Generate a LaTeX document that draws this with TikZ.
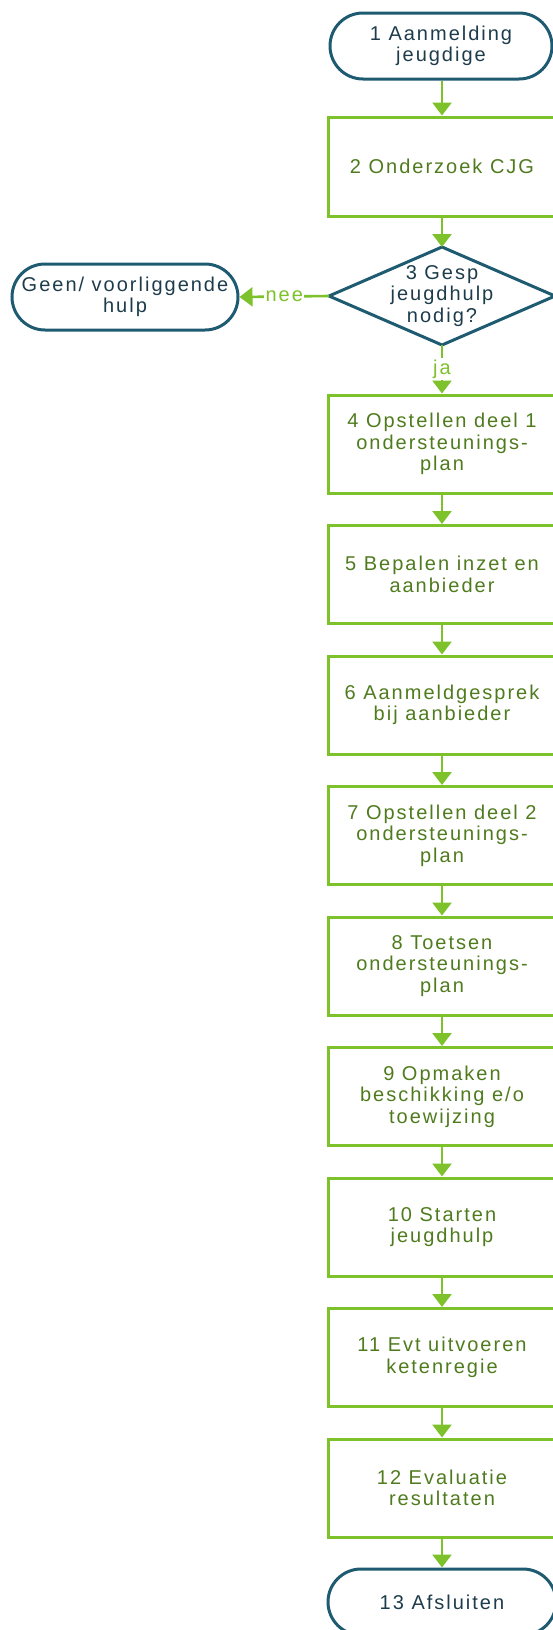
\documentclass[tikz,border=0pt]{standalone}
\usepackage{fontspec}
\setmainfont{Liberation Sans}[LetterSpace=10]
\usetikzlibrary{arrows.meta}
\definecolor{lgreen}{RGB}{125,193,43}
\definecolor{tgreen}{RGB}{79,123,30}
\definecolor{teal2}{RGB}{31,91,112}
\definecolor{dtext}{RGB}{29,60,75}
\newcommand{\flowfont}{\fontsize{20}{21.6}\selectfont}
\begin{document}
\begin{tikzpicture}[x=1pt,y=-1pt,
  stepbox/.style={draw=lgreen, line width=3pt, minimum width=228pt, minimum height=98pt,
    inner sep=0pt, align=center, text=tgreen, font=\flowfont},
  term/.style={draw=teal2, line width=3pt, rounded corners=33pt, minimum width=222pt,
    minimum height=66pt, inner sep=0pt, align=center, text=dtext, font=\flowfont},
  diam/.style={minimum width=226pt, minimum height=98pt, inner sep=0pt, outer sep=0pt,
    align=center, text=dtext, font=\flowfont},
  conn/.style={draw=lgreen, line width=2.6pt, -{Triangle[length=13pt,width=19pt]}},
  lbl/.style={text=lgreen, fill=white, inner sep=1.5pt, font=\flowfont}
]
\useasboundingbox (0,0) rectangle (552,1630);
\node[term] (t1) at (441,46) {1 Aanmelding\\jeugdige};
\node[stepbox, minimum height=99pt] (b2) at (442,166.5) {2 Onderzoek CJG};
\node[diam] (d3) at (442,296) {3 Gesp\\jeugdhulp\\nodig?};
\draw[teal2, line width=3pt, line join=miter] (d3.north) -- (d3.east) -- (d3.south) -- (d3.west) -- cycle;
\node[term, minimum width=226pt] (g) at (125,297) {Geen/ voorliggende\\hulp};
\node[stepbox] (b4) at (442,444) {4 Opstellen deel 1\\ondersteunings-\\plan};
\node[stepbox] (b5) at (442,574.5) {5 Bepalen inzet en\\aanbieder};
\node[stepbox] (b6) at (442,705) {6 Aanmeldgesprek\\bij aanbieder};
\node[stepbox] (b7) at (442,835.5) {7 Opstellen deel 2\\ondersteunings-\\plan};
\node[stepbox] (b8) at (442,966) {8 Toetsen\\ondersteunings-\\plan};
\node[stepbox] (b9) at (442,1096.5) {9 Opmaken\\beschikking e/o\\toewijzing};
\node[stepbox] (b10) at (442,1227) {10 Starten\\jeugdhulp};
\node[stepbox] (b11) at (442,1357.5) {11 Evt uitvoeren\\ketenregie};
\node[stepbox] (b12) at (442,1488) {12 Evaluatie\\resultaten};
\node[term, minimum width=228pt] (t13) at (442,1602) {13 Afsluiten};
\draw[conn] (t1.south -| b2.north) -- (b2.north);
\draw[conn] (b2.south) -- (d3.north);
\draw[conn] (d3.west) -- node[lbl] {nee} (g.east);
\draw[conn] (d3.south) -- node[lbl] {ja} (b4.north);
\draw[conn] (b4.south) -- (b5.north);
\draw[conn] (b5.south) -- (b6.north);
\draw[conn] (b6.south) -- (b7.north);
\draw[conn] (b7.south) -- (b8.north);
\draw[conn] (b8.south) -- (b9.north);
\draw[conn] (b9.south) -- (b10.north);
\draw[conn] (b10.south) -- (b11.north);
\draw[conn] (b11.south) -- (b12.north);
\draw[conn] (b12.south) -- (t13.north);
\end{tikzpicture}
\end{document}
